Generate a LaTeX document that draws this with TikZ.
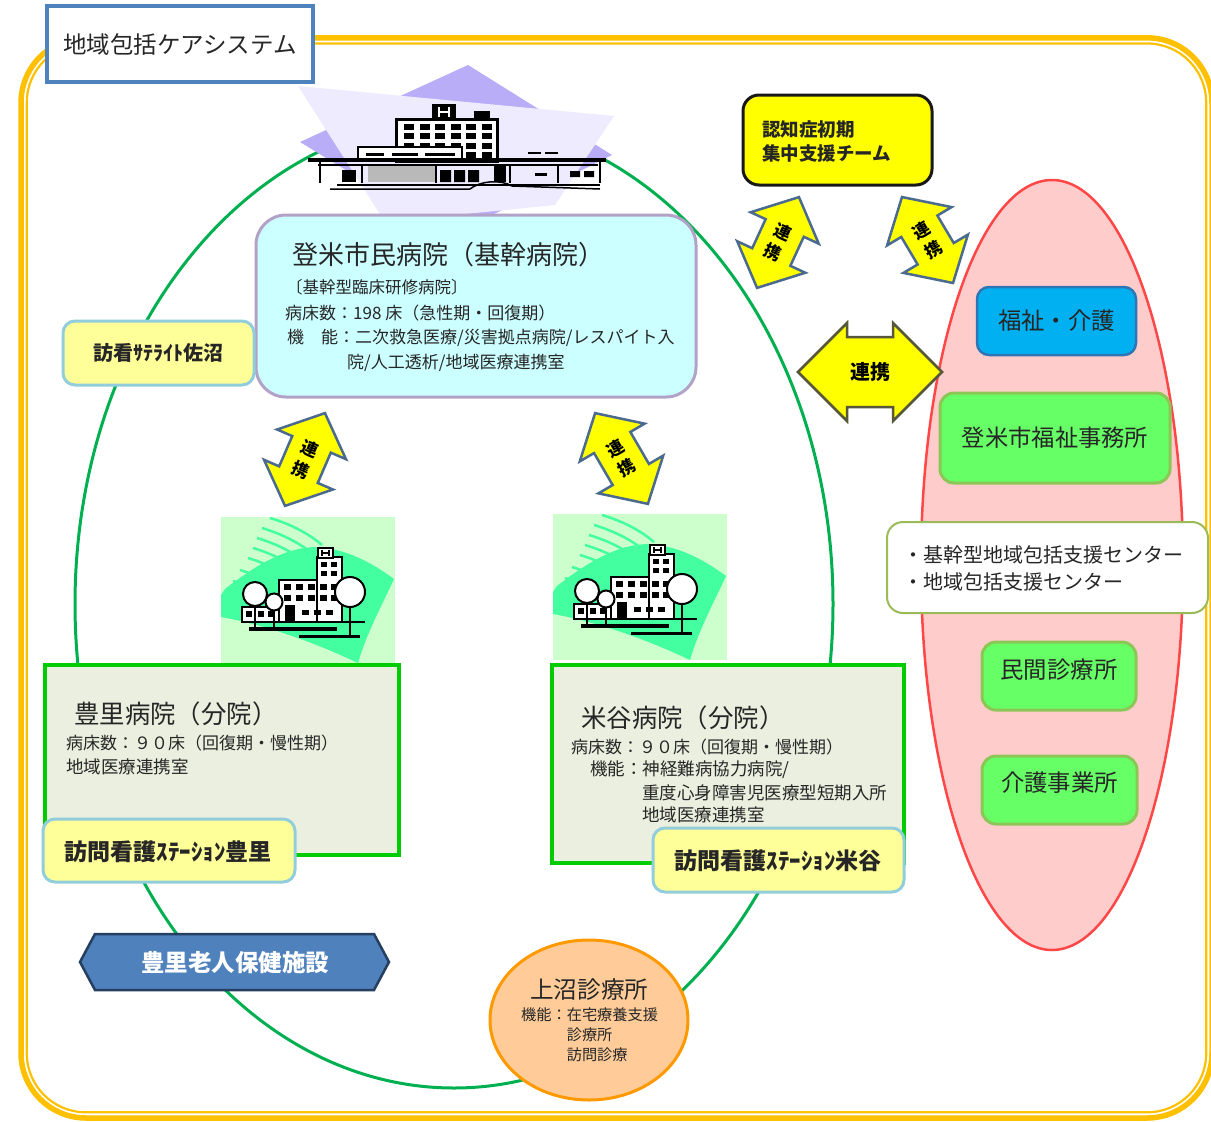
\documentclass[tikz,border=0pt]{standalone}
\usepackage{fontspec}
\setmainfont{Noto Sans CJK JP}
\usetikzlibrary{shapes.geometric}

\definecolor{ink}{HTML}{262626}
\definecolor{frameGold}{HTML}{FFC000}
\definecolor{titleBlue}{HTML}{4F81BD}
\definecolor{ringGreen}{HTML}{00B050}
\definecolor{lavLight}{HTML}{EEEBFE}
\definecolor{lavDark}{HTML}{B8ADF6}
\definecolor{coreFill}{HTML}{CCFFFF}
\definecolor{coreLine}{HTML}{B3A2C7}
\definecolor{satFill}{HTML}{FFFF99}
\definecolor{satLine}{HTML}{92CDDC}
\definecolor{branchFill}{HTML}{EBEFDF}
\definecolor{branchLine}{HTML}{00CC00}
\definecolor{iconBg}{HTML}{CCFFCC}
\definecolor{iconWave}{HTML}{44FFA0}
\definecolor{linkFill}{HTML}{FFFF00}
\definecolor{linkBlue}{HTML}{4A6A90}
\definecolor{linkOlive}{HTML}{57573A}
\definecolor{pinkFill}{HTML}{FFCCCC}
\definecolor{pinkLine}{HTML}{FF4747}
\definecolor{welfFill}{HTML}{00B0F0}
\definecolor{welfLine}{HTML}{2E75B6}
\definecolor{grnFill}{HTML}{66FF66}
\definecolor{grnLine}{HTML}{8CC657}
\definecolor{wbLine}{HTML}{9BBB59}
\definecolor{hexFill}{HTML}{4F81BD}
\definecolor{hexLine}{HTML}{243F60}
\definecolor{clinFill}{HTML}{FFCC99}
\definecolor{clinLine}{HTML}{FF9900}

% double-headed block arrow: centre (#1,#2), angle #3, length #4,
% head length #5, head width #6, shaft width #7, style #8
\newcommand\linkarrow[8]{%
  \begin{scope}[shift={(#1,#2)},rotate=#3]
    \pgfmathsetmacro\aL{#4/2}\pgfmathsetmacro\aH{#4/2-#5}%
    \pgfmathsetmacro\aW{#6/2}\pgfmathsetmacro\aw{#7/2}%
    \draw[#8] (-\aL,0) -- (-\aH,-\aW) -- (-\aH,-\aw) -- (\aH,-\aw) -- (\aH,-\aW)
      -- (\aL,0) -- (\aH,\aW) -- (\aH,\aw) -- (-\aH,\aw) -- (-\aH,\aW) -- cycle;
  \end{scope}}

% small hospital clip-art with trees, top-left corner at (#1,#2)
\newcommand\hospicon[2]{%
  \begin{scope}[shift={(#1,#2)}]
    \fill[iconBg] (0,0) rectangle (174,146);
    \fill[iconWave] (4,72) .. controls (35,48) and (65,30) .. (96,30)
      .. controls (125,32) and (150,45) .. (173,62)
      .. controls (160,90) and (145,118) .. (137,146)
      .. controls (95,126) and (45,108) .. (0,100) -- (0,78) -- cycle;
    \foreach \sx/\sy in {49/1,41/11,36/21,32/31,27/41,19/53,12/64}{
      \draw[iconWave, line width=2.5pt] (\sx,\sy) .. controls (\sx+20,\sy+6) and (\sx+38,\sy+15) .. (\sx+52,\sy+27);}
    \begin{scope}[line width=2pt]
      \draw[fill=white] (58,63) rectangle (121,105);
      \draw[fill=white] (96,40) rectangle (121,105);
      \draw[fill=white] (97,31) rectangle (112,41);
      \draw[line width=1.5pt] (101,33)--(101,39) (108,33)--(108,39) (101,36)--(108,36);
      \foreach \yy in {45,54}{\fill (100,\yy) rectangle ++(6,5); \fill (110,\yy) rectangle ++(6,5);}
      \foreach \xx in {63,75,87,99,110}{\fill (\xx,67) rectangle ++(7,6); \fill (\xx,78) rectangle ++(7,6);}
      \fill (64,88) rectangle (74,105);
      \foreach \xx in {81,93,105}{\fill (\xx,93) rectangle ++(7,5);}
      \draw[fill=white] (21,90) rectangle (58,105);
      \foreach \xx in {25,37,47}{\fill (\xx,94) rectangle ++(6,6);}
      \draw[fill=white] (34,77) circle[radius=12pt];
      \draw[fill=white] (53,85) circle[radius=8.5pt];
      \draw[fill=white] (129,75) circle[radius=15pt];
      \draw (34,89)--(34,112) (53,93.5)--(53,112) (129,90)--(129,118);
      \draw[line width=3.5pt] (28,112)--(116,112);
      \draw[line width=3pt] (78,119)--(139,119);
      \draw (121,105)--(144,105);
    \end{scope}
  \end{scope}}

\begin{document}
\begin{tikzpicture}[x=1pt,y=-1pt,
  lbl/.style={inner sep=0pt, text=ink, anchor=west},
  ctr/.style={inner sep=0pt, text=ink},
  arrowS/.style={fill=linkFill, draw=linkBlue, line width=2.5pt, line join=miter},
  arrowH/.style={fill=linkFill, draw=linkOlive, line width=2.5pt, line join=miter},
  arrT/.style={inner sep=0pt, text=black, align=center, font=\fontsize{17}{22}\selectfont\bfseries},
  satbox/.style={draw=satLine, fill=satFill, line width=3pt, rounded corners=12pt, inner sep=0pt},
  branchbox/.style={draw=branchLine, fill=branchFill, line width=4pt, inner sep=0pt},
  grnbox/.style={draw=grnLine, fill=grnFill, line width=3pt, rounded corners=14pt, inner sep=0pt}]

\useasboundingbox (0,0) rectangle (1211,1122);
\fill[white] (0,0) rectangle (1211,1122);

% outer frame: thick gold line with a thin gold line inside
\draw[frameGold, line width=5.5pt, rounded corners=65pt] (21,37.8) rectangle (1212,1118);
\draw[frameGold, line width=2.2pt, rounded corners=59pt] (26.8,43.5) rectangle (1206.2,1112.3);

% title
\node[draw=titleBlue, fill=white, line width=3.5pt, minimum width=266pt, minimum height=76pt, inner sep=0pt] (title) at (180,44) {};
\node[lbl, font=\fontsize{23.5}{26}\selectfont] (titleT) at (63,45) {地域包括ケアシステム};

% care ring
\draw[ringGreen, line width=3pt] (454,604) ellipse [x radius=379pt, y radius=484pt];

% welfare ellipse
\draw[pinkLine, fill=pinkFill, line width=2.5pt] (1052,565) ellipse [x radius=131pt, y radius=385pt];

% core hospital picture
\fill[lavDark] (468,65) -- (612,155) -- (452,235) -- (300,142) -- cycle;
\fill[lavLight] (298,86) -- (614,116) -- (555,205) -- (385,222) -- cycle;
\begin{scope}[line join=miter]
  \draw[line width=3pt, fill=white] (396,119) rectangle (497,161);
  \foreach \i in {0,...,5}{\foreach \j in {0,...,3}{\fill (404+15.5*\i,124+9.3*\j) rectangle ++(10,6);}}
  \fill (432,104) rectangle (456,119);
  \draw[white, line width=2pt] (439,107)--(439,117) (449,107)--(449,117) (439,112)--(449,112);
  \fill (474,111) rectangle (490,119);
  \draw[line width=2.5pt, fill=white] (358,147) rectangle (462,161);
  \draw[line width=3pt] (366,154)--(384,154) (392,154)--(418,154) (425,154)--(455,154);
  \draw[line width=2pt] (528,153)--(541,153) (545,153)--(558,153);
  \fill (308,158) rectangle (606,162);
  \draw[line width=1.5pt] (318,165)--(598,165);
  \fill[gray!55] (368,166) rectangle (436,182);
  \draw[line width=2.5pt] (320,160)--(320,183) (362,165)--(362,183) (436,165)--(436,183)
    (510,165)--(510,183) (558,165)--(558,183) (600,160)--(600,183);
  \fill (342,170) rectangle (356,182);
  \fill (440,170) rectangle (451,182) (454,170) rectangle (465,182) (468,170) rectangle (479,182);
  \fill (494,166) rectangle (506,182);
  \fill (570,171) rectangle (580,177) (584,171) rectangle (594,177);
  \fill (535,173) rectangle (547,176);
  \draw[line width=2.5pt] (337,185)--(600,185);
  \draw[line width=1.5pt] (330,189)--(470,189) .. controls (480,181) and (500,179) .. (512,186) -- (600,189);
\end{scope}

% core hospital box
\node[draw=coreLine, fill=coreFill, line width=3pt, rounded corners=30pt, minimum width=440pt, minimum height=182pt, inner sep=0pt] (core) at (476,306) {};
\node[lbl, font=\fontsize{26}{30}\selectfont] (coreT) at (292,255) {登米市民病院（基幹病院）};
\node[lbl, font=\fontsize{16.5}{20}\selectfont] (coreA) at (286,287) {〔基幹型臨床研修病院〕};
\node[lbl, font=\fontsize{17}{20}\selectfont] (coreB) at (285,313) {病床数：198 床（急性期・回復期）};
\node[lbl, font=\fontsize{17}{20}\selectfont] (coreC) at (287,338) {機　能：二次救急医療/災害拠点病院/レスパイト入};
\node[lbl, font=\fontsize{17}{20}\selectfont] (coreD) at (347,363) {院/人工透析/地域医療連携室};

% nursing satellite
\node[satbox, minimum width=191pt, minimum height=64pt] (sat) at (158.5,353) {};
\node[ctr, font=\fontsize{20}{22}\selectfont\bfseries] (satT) at (158.5,353) {訪看ｻﾃﾗｲﾄ佐沼};

% dementia support team
\node[draw=black!90, fill=linkFill, line width=3pt, rounded corners=16pt, minimum width=189pt, minimum height=90pt, inner sep=0pt] (team) at (837.5,140) {};
\node[lbl, font=\fontsize{18.5}{21}\selectfont\bfseries] (teamA) at (762,129) {認知症初期};
\node[lbl, font=\fontsize{18.5}{21}\selectfont\bfseries] (teamB) at (762,153) {集中支援チーム};

% cooperation arrows
\linkarrow{305}{459.5}{66.7}{101}{34}{75}{42}{arrowS}
\node[arrT, rotate=-23.3] (lkA) at (305,459.5) {連\\携};
\linkarrow{621.5}{458.5}{120.2}{105}{34}{75}{42}{arrowS}
\node[arrT, rotate=30.2] (lkB) at (621.5,458.5) {連\\携};
\linkarrow{778}{242.5}{65.2}{100}{34}{75}{42}{arrowS}
\node[arrT, rotate=-24.8] (lkC) at (778,242.5) {連\\携};
\linkarrow{927.5}{240}{120.7}{100}{34}{75}{42}{arrowS}
\node[arrT, rotate=30.7] (lkD) at (927.5,240) {連\\携};
\linkarrow{870}{372}{0}{144}{49}{98}{70}{arrowH}
\node[arrT, font=\fontsize{20}{22}\selectfont\bfseries] (lkE) at (870,372) {連携};

% branch hospitals
\hospicon{221}{517}
\hospicon{553}{514}

\node[branchbox, minimum width=354pt, minimum height=190pt] (toyo) at (222,760) {};
\node[lbl, font=\fontsize{25.4}{28}\selectfont] (toyoT) at (74,714) {豊里病院（分院）};
\node[lbl, font=\fontsize{17}{20}\selectfont] (toyoA) at (66,743) {病床数：９０床（回復期・慢性期）};
\node[lbl, font=\fontsize{17.5}{20}\selectfont] (toyoB) at (66,767) {地域医療連携室};

\node[branchbox, minimum width=352pt, minimum height=198pt] (maya) at (728,764) {};
\node[lbl, font=\fontsize{25.4}{28}\selectfont] (mayaT) at (581,718) {米谷病院（分院）};
\node[lbl, font=\fontsize{17}{20}\selectfont] (mayaA) at (571,747) {病床数：９０床（回復期・慢性期）};
\node[lbl, font=\fontsize{17.5}{20}\selectfont] (mayaB) at (590,770) {機能：神経難病協力病院/};
\node[lbl, font=\fontsize{17.5}{20}\selectfont] (mayaC) at (642,793) {重度心身障害児医療型短期入所};
\node[lbl, font=\fontsize{17.5}{20}\selectfont] (mayaD) at (642,815) {地域医療連携室};

\node[satbox, minimum width=252pt, minimum height=63pt] (tsat) at (169,850.5) {};
\node[ctr, font=\fontsize{23}{25}\selectfont\bfseries] (tsatT) at (168,852) {訪問看護ｽﾃｰｼｮﾝ豊里};
\node[satbox, minimum width=251pt, minimum height=64pt] (msat) at (778.5,860) {};
\node[ctr, font=\fontsize{23}{25}\selectfont\bfseries] (msatT) at (778,861) {訪問看護ｽﾃｰｼｮﾝ米谷};

% geriatric health facility
\draw[fill=hexFill, draw=hexLine, line width=2.5pt, line join=miter]
  (80,962) -- (95,934) -- (374,934) -- (389,962) -- (374,990) -- (95,990) -- cycle;
\node[inner sep=0pt, text=white, font=\fontsize{23.5}{26}\selectfont\bfseries] (roken) at (235,963) {豊里老人保健施設};

% clinic
\node[ellipse, draw=clinLine, fill=clinFill, line width=3pt, minimum width=198pt, minimum height=160pt, inner sep=0pt] (clinic) at (589,1020) {};
\node[lbl, font=\fontsize{23.6}{26}\selectfont] (clinicT) at (530,990) {上沼診療所};
\node[lbl, font=\fontsize{15.2}{17}\selectfont] (clinicA) at (521,1015) {機能：在宅療養支援};
\node[lbl, font=\fontsize{15.2}{17}\selectfont] (clinicB) at (566.6,1035) {診療所};
\node[lbl, font=\fontsize{15.2}{17}\selectfont] (clinicC) at (566.6,1055) {訪問診療};

% welfare side
\node[draw=welfLine, fill=welfFill, line width=2.5pt, rounded corners=12pt, minimum width=159pt, minimum height=68pt, inner sep=0pt] (welf) at (1056.5,321) {};
\node[ctr, font=\fontsize{23.4}{26}\selectfont] (welfT) at (1056.5,321) {福祉・介護};
\node[grnbox, minimum width=230pt, minimum height=90pt] (office) at (1055,438) {};
\node[ctr, font=\fontsize{23.3}{26}\selectfont] (officeT) at (1055,438) {登米市福祉事務所};
\node[draw=wbLine, fill=white, line width=2pt, rounded corners=16pt, minimum width=321pt, minimum height=91pt, inner sep=0pt] (center) at (1047.5,567.5) {};
\node[lbl, font=\fontsize{20}{22}\selectfont] (centerA) at (903,555) {・基幹型地域包括支援センター};
\node[lbl, font=\fontsize{20}{22}\selectfont] (centerB) at (903,582) {・地域包括支援センター};
\node[grnbox, minimum width=154pt, minimum height=68pt] (priv) at (1059,676) {};
\node[ctr, font=\fontsize{23.4}{26}\selectfont] (privT) at (1059,670) {民間診療所};
\node[grnbox, minimum width=155pt, minimum height=68pt] (care) at (1059.5,790) {};
\node[ctr, font=\fontsize{23.4}{26}\selectfont] (careT) at (1059.5,783) {介護事業所};

\end{tikzpicture}
\end{document}
